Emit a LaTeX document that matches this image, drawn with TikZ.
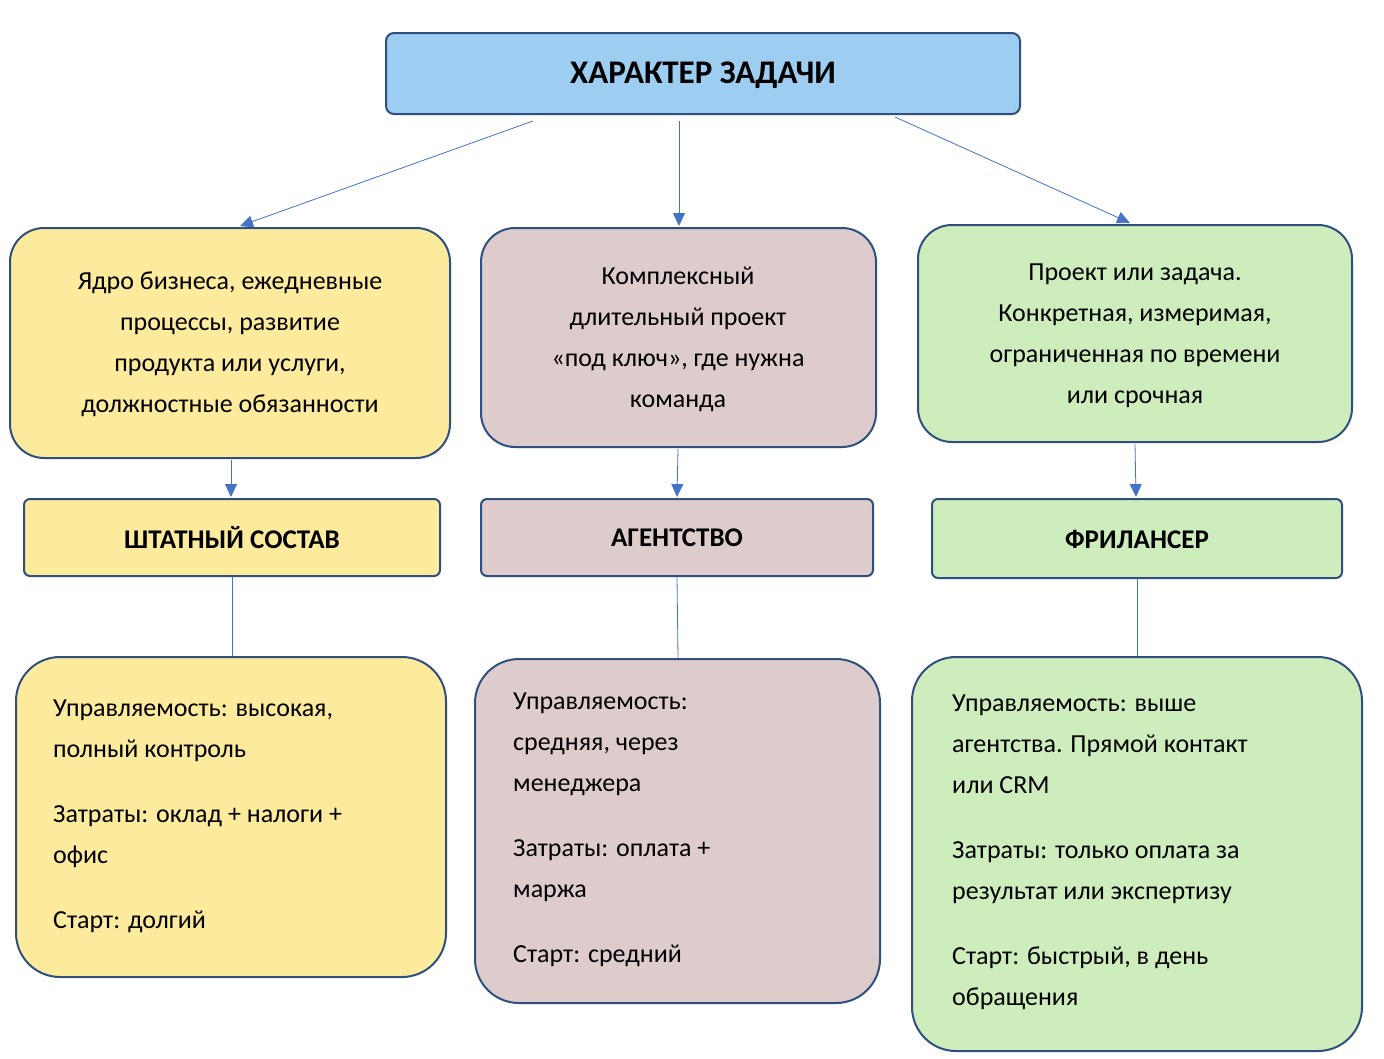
\documentclass[tikz,border=0pt]{standalone}
\usepackage{fontspec}
\setmainfont{Carlito}
\usetikzlibrary{arrows.meta}
\definecolor{bd}{HTML}{2F4F7F}
\definecolor{ln}{HTML}{4472C4}
\definecolor{cb}{HTML}{9DCDF0}
\definecolor{cy}{HTML}{FCEB9C}
\definecolor{cp}{HTML}{DDCCCB}
\definecolor{cg}{HTML}{CEEDBD}
\begin{document}
\begin{tikzpicture}[x=1pt,y=-1pt,
 box/.style={draw=bd,line width=2pt,rounded corners=#1},
 txt/.style={font=\fontsize{26}{41}\selectfont,align=center,inner sep=0},
 btxt/.style={font=\fontsize{26}{41}\selectfont,align=left,anchor=north west,inner sep=0},
 hd/.style={font=\fontsize{27}{32}\selectfont\bfseries,inner sep=0},
 arr/.style={draw=ln,line width=0.8pt,-{Triangle[length=13pt,width=12pt]}},
 con/.style={draw=ln,line width=0.8pt}]
\useasboundingbox (0,0) rectangle (1384,1058);
% boxes
\draw[box=8pt,fill=cb] (386,33) rectangle (1020,114);
\node[hd,font=\fontsize{33}{38}\selectfont\bfseries] (t) at (703,75) {ХАРАКТЕР ЗАДАЧИ};
\draw[box=34pt,fill=cy] (10,228) rectangle (450,458);
\draw[box=34pt,fill=cp] (481,228) rectangle (876,447);
\draw[box=34pt,fill=cg] (918,225) rectangle (1352,442);
\node[txt] (a1) at (230,344) {Ядро бизнеса, ежедневные\\процессы, развитие\\продукта или услуги,\\должностные обязанности};
\node[txt] (b1) at (678,339) {Комплексный\\длительный проект\\«под ключ», где нужна\\команда};
\node[txt] (c1) at (1135,336) {Проект или задача.\\Конкретная, измеримая,\\ограниченная по времени\\или срочная};
\draw[box=6pt,fill=cy] (24,499) rectangle (440,576);
\draw[box=6pt,fill=cp] (481,499) rectangle (873,576);
\draw[box=6pt,fill=cg] (932,499) rectangle (1342,578);
\node[hd] (a2) at (232,538) {ШТАТНЫЙ СОСТАВ};
\node[hd] (b2) at (677,538) {АГЕНТСТВО};
\node[hd] (c2) at (1137,539) {ФРИЛАНСЕР};
\draw[box=44pt,fill=cy] (16,657) rectangle (446,977);
\draw[box=44pt,fill=cp] (475,659) rectangle (880,1003);
\draw[box=44pt,fill=cg] (912,657) rectangle (1362,1051);
\node[btxt] (a3) at (53,700) {Управляемость: высокая,\\полный контроль\\[24pt]Затраты: оклад + налоги +\\офис\\[24pt]Старт: долгий};
\node[btxt] (b3) at (513,693) {Управляемость:\\средняя, через\\менеджера\\[24pt]Затраты: оплата +\\маржа\\[24pt]Старт: средний};
\node[btxt] (c3) at (952,695) {Управляемость: выше\\агентства. Прямой контакт\\или CRM\\[24pt]Затраты: только оплата за\\результат или экспертизу\\[24pt]Старт: быстрый, в день\\обращения};
% connectors
\coordinate (s1) at (533,121); \coordinate (e1) at (240,226);
\coordinate (s2) at (679,121); \coordinate (e2) at (679,226);
\coordinate (s3) at (895,117); \coordinate (e3) at (1130,223);
\draw[arr] (s1) -- (e1);
\draw[arr] (s2) -- (e2);
\draw[arr] (s3) -- (e3);
\coordinate (m1) at (231,460); \coordinate (n1) at (231,497);
\coordinate (m2) at (678,449); \coordinate (n2) at (677,497);
\coordinate (m3) at (1135,444); \coordinate (n3) at (1136,497);
\draw[arr] (m1) -- (n1);
\draw[arr] (m2) -- (n2);
\draw[arr] (m3) -- (n3);
\coordinate (p1) at (232,577); \coordinate (q1) at (232,656);
\coordinate (p2) at (677,577); \coordinate (q2) at (678,658);
\coordinate (p3) at (1137,579); \coordinate (q3) at (1137,656);
\draw[con] (p1) -- (q1);
\draw[con] (p2) -- (q2);
\draw[con] (p3) -- (q3);
\end{tikzpicture}
\end{document}
